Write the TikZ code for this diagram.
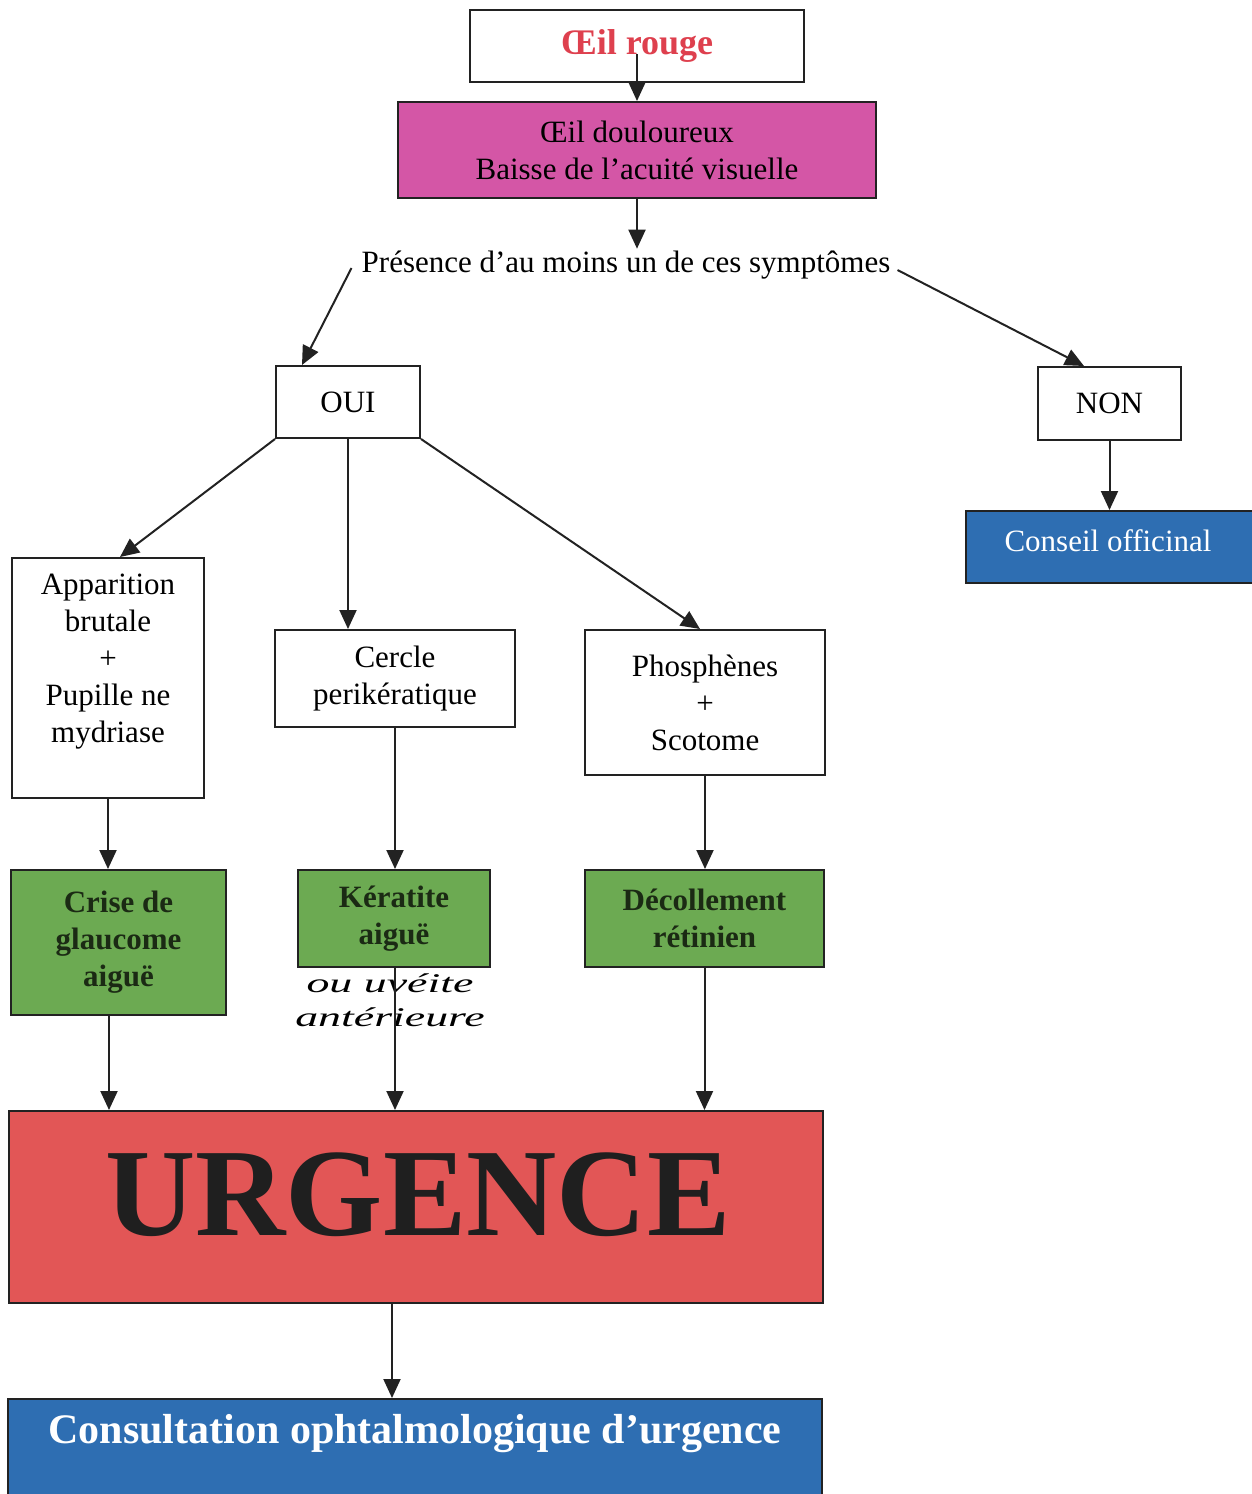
\documentclass[tikz,border=0pt]{standalone}
\usepackage{fontspec}
\setmainfont{Liberation Serif}
\newfontfamily\handfont[FakeStretch=1.7]{Liberation Serif}
\usetikzlibrary{arrows.meta}
\definecolor{edge}{HTML}{222222}
\definecolor{pinkbox}{RGB}{212,86,166}
\definecolor{bluebox}{RGB}{46,110,178}
\definecolor{greenbox}{RGB}{108,170,82}
\definecolor{redbox}{RGB}{226,86,86}
\definecolor{redtext}{RGB}{222,64,78}
\definecolor{greentext}{HTML}{1B2A14}
\begin{document}
\begin{tikzpicture}[x=1pt,y=-1pt,
  box/.style={draw=edge, line width=2pt, inner sep=0pt, align=center,
    font=\fontsize{31}{37}\selectfont, text=black},
  gbox/.style={box, fill=greenbox, font=\fontsize{31}{37}\selectfont\bfseries, text=greentext},
  lbl/.style={align=center, inner sep=0pt},
  arr/.style={draw=edge, line width=2pt, -{Triangle[length=19pt,width=17pt]}}]
\useasboundingbox (0,0) rectangle (1251,1494);

\node[box, minimum width=334pt, minimum height=72pt, font=\fontsize{36}{40}\selectfont\bfseries, text=redtext] (rouge) at (637,46) {Œil rouge};
\node[box, fill=pinkbox, minimum width=478pt, minimum height=96pt] (doul) at (637,150) {Œil douloureux\\Baisse de l’acuité visuelle};
\node[inner sep=2pt, font=\fontsize{31}{37}\selectfont] (pres) at (626,265) {Présence d’au moins un de ces symptômes};
\node[box, minimum width=144pt, minimum height=72pt] (oui) at (348,402) {OUI};
\node[box, minimum width=143pt, minimum height=73pt] (non) at (1109.5,403.5) {NON};
\node[box, fill=bluebox, text=white, minimum width=290pt, minimum height=72pt] (conseil) at (1111,547) {};
\node[lbl, font=\fontsize{31}{37}\selectfont, text=white] (conseiltxt) at (1108,541) {Conseil officinal};

\node[box, minimum width=192pt, minimum height=240pt,
  label={[lbl, font=\fontsize{31}{37}\selectfont, yshift=16pt]center:{Apparition\\brutale\\+\\Pupille ne\\mydriase}}] (app) at (108,678) {};
\node[box, minimum width=240pt, minimum height=97pt] (cercle) at (395,678.5) {Cercle\\perikératique};
\node[box, minimum width=240pt, minimum height=145pt] (phos) at (705,702.5) {Phosphènes\\+\\Scotome};

\node[gbox, minimum width=215pt, minimum height=145pt] (crise) at (118.5,942.5) {Crise de\\glaucome\\aiguë};
\node[gbox, minimum width=192pt, minimum height=97pt] (kerat) at (394,918.5) {Kératite\\aiguë};
\node[gbox, minimum width=239pt, minimum height=97pt] (decol) at (704.5,918.5) {Décollement\\rétinien};

\node[lbl, font=\fontsize{27}{34}\selectfont\handfont\itshape] (hw) at (390,1000) {ou uvéite\\antérieure};

\node[box, fill=redbox, minimum width=814pt, minimum height=192pt] (urg) at (416,1207) {};
\node[lbl, font=\fontsize{125}{130}\selectfont\bfseries, text=black!88] (urgtxt) at (418,1195) {URGENCE};

\node[box, fill=bluebox, minimum width=814pt, minimum height=104pt] (cons) at (415,1451) {};
\node[lbl, font=\fontsize{42}{46}\selectfont\bfseries, text=white] (constxt) at (415,1434) {Consultation ophtalmologique d’urgence};

% connectors
\draw[arr] ([yshift=-8pt]rouge.center) -- (doul.north);
\draw[arr] (doul.south) -- (doul.south |- pres.north);
\draw[arr] ([xshift=-8pt,yshift=-3pt]pres.west) -- ([xshift=27pt]oui.north west);
\draw[arr] ([xshift=5pt,yshift=-5pt]pres.east) -- ([xshift=47pt]non.north west);
\draw[arr] (non.south) -- (non.south |- conseil.north);

\draw[arr] (oui.south west) -- ([xshift=12pt]app.north);
\draw[arr] (oui.south) -- (oui.south |- cercle.north);
\draw[arr] (oui.south east) -- ([xshift=-5pt]phos.north);

\draw[arr] (app.south) -- (app.south |- crise.north);
\draw[arr] (cercle.south) -- (cercle.south |- kerat.north);
\draw[arr] (phos.south) -- (phos.south |- decol.north);

\coordinate (c1) at ([xshift=-9.5pt]crise.south);
\draw[arr] (c1) -- (c1 |- urg.north);
\coordinate (c2) at ([xshift=1pt]kerat.south);
\draw[arr] (c2) -- (c2 |- urg.north);
\draw[arr] (decol.south) -- (decol.south |- urg.north);
\coordinate (c3) at ([xshift=-24pt]urg.south);
\draw[arr] (c3) -- (c3 |- cons.north);
\end{tikzpicture}
\end{document}
